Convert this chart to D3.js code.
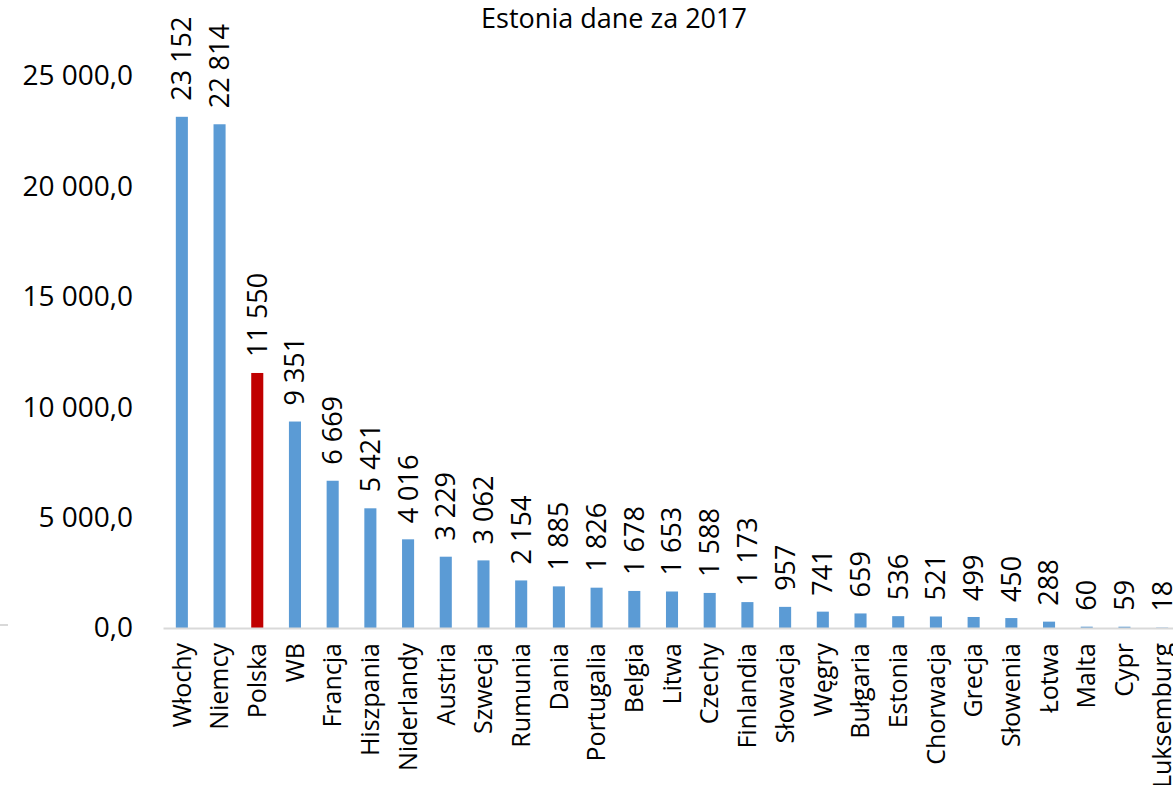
<!DOCTYPE html>
<html>
<head>
<meta charset="utf-8">
<script src="https://cdn.jsdelivr.net/npm/d3@7"></script>
<style>
  body { margin: 0; background: #fff; }
  svg { display: block; font-family: "Open Sans", "Noto Sans", sans-serif; }
</style>
</head>
<body>
<div id="chart"></div>
<script>

// dane
const countries = ['Włochy', 'Niemcy', 'Polska', 'WB', 'Francja', 'Hiszpania', 'Niderlandy', 'Austria',
  'Szwecja', 'Rumunia', 'Dania', 'Portugalia', 'Belgia', 'Litwa', 'Czechy', 'Finlandia', 'Słowacja',
  'Węgry', 'Bułgaria', 'Estonia', 'Chorwacja', 'Grecja', 'Słowenia', 'Łotwa', 'Malta', 'Cypr', 'Luksemburg']
const values = [23152, 22814, 11550, 9351, 6669, 5421, 4016, 3229, 3062, 2154, 1885, 1826, 1678, 1653,
  1588, 1173, 957, 741, 659, 536, 521, 499, 450, 288, 60, 59, 18]
const yTicks = [0, 5000, 10000, 15000, 20000, 25000]
const highlighted = 'Polska'
const title = 'Estonia dane za 2017'

var width = 1173;
var height = 785;

const pl = d3.formatLocale({ decimal: ',', thousands: ' ', grouping: [3], currency: ['', ' zł'] })
const fmtAxis = pl.format(',.1f')
const fmtLabel = pl.format(',.0f')

var data = countries.map((c, i) => ({ country: c, value: values[i] }))

var svg = d3.select('#chart').append('svg')
    .attr('width', width)
    .attr('height', height)

// chart continues past right edge in the original screenshot
var x = d3.scaleBand()
    .domain(countries)
    .range([163, 1181])
    .paddingInner(0.68)
    .paddingOuter(0.34)

var y = d3.scaleLinear()
    .domain([0, 25000])
    .range([628, 76])

// fragment of neighbouring chart at left edge
svg.append('line')
    .attr('x1', 0).attr('x2', 8)
    .attr('y1', 625).attr('y2', 625)
    .attr('stroke', '#d9d9d9')
    .attr('stroke-width', 2)

// title
svg.append('text')
    .attr('x', 614)
    .attr('y', 28)
    .attr('text-anchor', 'middle')
    .attr('font-size', 27)
    .attr('fill', '#000')
    .text(title)

// y axis
var yAxis = d3.axisLeft(y)
    .tickValues(yTicks)
    .tickSize(0)
    .tickPadding(0)
    .tickFormat(fmtAxis)

var yG = svg.append('g')
    .attr('transform', 'translate(133,0)')
    .call(yAxis)
yG.select('.domain').remove()
yG.selectAll('text')
    .attr('font-size', 28)
    .attr('font-family', '"Open Sans", "Noto Sans", sans-serif')
    .attr('fill', '#000')

// bars
svg.append('g').selectAll('rect')
    .data(data)
    .enter()
    .append('rect')
    .attr('x', d => x(d.country))
    .attr('y', d => y(d.value))
    .attr('width', x.bandwidth())
    .attr('height', d => y(0) - y(d.value))
    .attr('fill', d => d.country == highlighted ? '#c00000' : '#5b9bd5')

// x axis
var xAxis = d3.axisBottom(x)
    .tickSize(0)
    .tickPadding(0)

var xG = svg.append('g')
    .attr('transform', 'translate(0,' + y(0) + ')')
    .call(xAxis)
xG.select('.domain')
    .attr('stroke', '#d9d9d9')
    .attr('stroke-width', 2)
xG.selectAll('text')
    .attr('font-size', 25)
    .attr('font-family', '"Open Sans", "Noto Sans", sans-serif')
    .attr('fill', '#000')
    .attr('text-anchor', 'end')
    .attr('dy', '0.35em')
    .attr('transform', 'translate(0,15) rotate(-90)')
    .attr('x', 0)
    .attr('y', 0)

// value labels
svg.append('g').selectAll('text')
    .data(data)
    .enter()
    .append('text')
    .attr('transform', d => 'translate(' + (x(d.country) + x.bandwidth() / 2) + ',' + (y(d.value) - 16) + ') rotate(-90)')
    .attr('dy', '0.35em')
    .attr('font-size', 27)
    .attr('fill', '#000')
    .text(d => fmtLabel(d.value))

</script>
</body>
</html>
